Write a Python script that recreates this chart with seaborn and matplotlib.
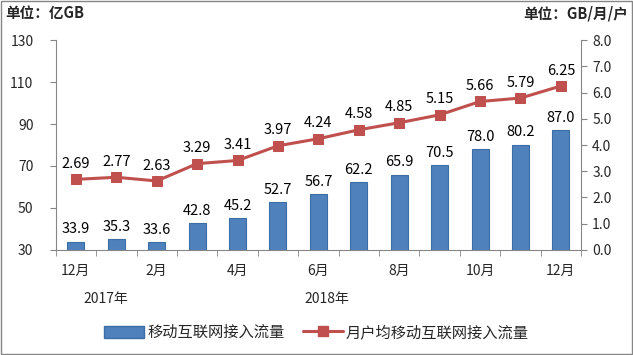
import numpy as np
import pandas as pd
import matplotlib
matplotlib.use('Agg')
import matplotlib.pyplot as plt
import seaborn as sns
from matplotlib.patches import Rectangle
from matplotlib.lines import Line2D
from matplotlib.patches import Patch

# data
months = ['12月', '1月', '2月', '3月', '4月', '5月', '6月', '7月', '8月', '9月', '10月', '11月', '12月']
traffic = [33.9, 35.3, 33.6, 42.8, 45.2, 52.7, 56.7, 62.2, 65.9, 70.5, 78.0, 80.2, 87.0]
per_user = [2.69, 2.77, 2.63, 3.29, 3.41, 3.97, 4.24, 4.58, 4.85, 5.15, 5.66, 5.79, 6.25]
years = ['2017年', '2018年']
bar_name = '移动互联网接入流量'
line_name = '月户均移动互联网接入流量'

sns.set_style('white')
plt.rcParams['font.family'] = ['Noto Sans CJK SC', 'DejaVu Sans']

bar_color = '#4F81BD'
line_color = '#C0504D'

fig = plt.figure(figsize=(6.33, 3.55), dpi=100)
ax = fig.add_axes([0.088, 0.296, 0.83, 0.591])

df = pd.DataFrame({'month': [f'{i}' for i in range(len(months))], 'traffic': traffic})
sns.barplot(data=df, x='month', y='traffic', ax=ax, color=bar_color, width=0.42,
            edgecolor='#3A6EA5', linewidth=0.8, saturation=1)
ax.set_ylim(30, 130)
ax.set_xlim(-0.5, len(months) - 0.5)
ax.set_yticks(np.arange(30, 131, 20))
ax.set_ylabel('')
ax.set_xlabel('')

for i, v in enumerate(traffic):
    ax.text(i, v + 2.5, f'{v:.1f}', ha='center', va='bottom', fontsize=10.5, color='black')

ax2 = ax.twinx()
sns.lineplot(x=np.arange(len(months)), y=per_user, ax=ax2, color=line_color, marker='s',
             markersize=6.5, linewidth=2.2, markeredgecolor=line_color)
ax2.set_ylim(0, 8)
ax2.set_yticks(np.arange(0, 8.1, 1.0))
ax2.set_yticklabels([f'{v:.1f}' for v in np.arange(0, 8.1, 1.0)])
for i, v in enumerate(per_user):
    ax2.text(i, v + 0.32, f'{v:.2f}', ha='center', va='bottom', fontsize=10.5, color='black')

# axes styling
for a in (ax, ax2):
    for s in a.spines.values():
        s.set_visible(False)
ax.spines['left'].set_visible(True)
ax.spines['bottom'].set_visible(True)
ax2.spines['right'].set_visible(True)
for s in (ax.spines['left'], ax.spines['bottom'], ax2.spines['right']):
    s.set_color('#868686')
    s.set_linewidth(0.8)

ax.tick_params(axis='y', direction='out', length=4, color='#868686', labelsize=10, pad=12)
ax2.tick_params(axis='y', direction='out', length=4, color='#868686', labelsize=10, pad=4)

ax.set_xticks(np.arange(0, len(months), 2))
ax.set_xticklabels(months[::2], fontsize=10)
ax.set_xticks(np.arange(-0.5, len(months), 1), minor=True)
ax.tick_params(axis='x', which='major', length=0, pad=10)
ax.tick_params(axis='x', which='minor', direction='out', length=4, color='#868686', bottom=True)

ax.text(0.75, -0.235, years[0], transform=ax.get_xaxis_transform(), ha='center', va='center', fontsize=10)
ax.text(6.2, -0.235, years[1], transform=ax.get_xaxis_transform(), ha='center', va='center', fontsize=10)

fig.text(0.008, 0.962, '单位：亿GB', ha='left', va='center', fontsize=10.5, fontweight='bold')
fig.text(0.992, 0.962, '单位：GB/月/户', ha='right', va='center', fontsize=10.5, fontweight='bold')

handles = [Patch(facecolor=bar_color, edgecolor='#3A6EA5'),
           Line2D([0], [0], color=line_color, marker='s', markersize=6.5, linewidth=2.2)]
fig.legend(handles, [bar_name, line_name], loc='center', bbox_to_anchor=(0.5, 0.063), ncol=2,
           frameon=False, fontsize=11, handlelength=2.6, handleheight=0.9, columnspacing=1.2,
           handletextpad=0.2)

fig.add_artist(Rectangle((0.002, 0.003), 0.996, 0.994, transform=fig.transFigure, fill=False,
                         edgecolor='#868686', linewidth=1))

fig.savefig('out.png', dpi=100)
